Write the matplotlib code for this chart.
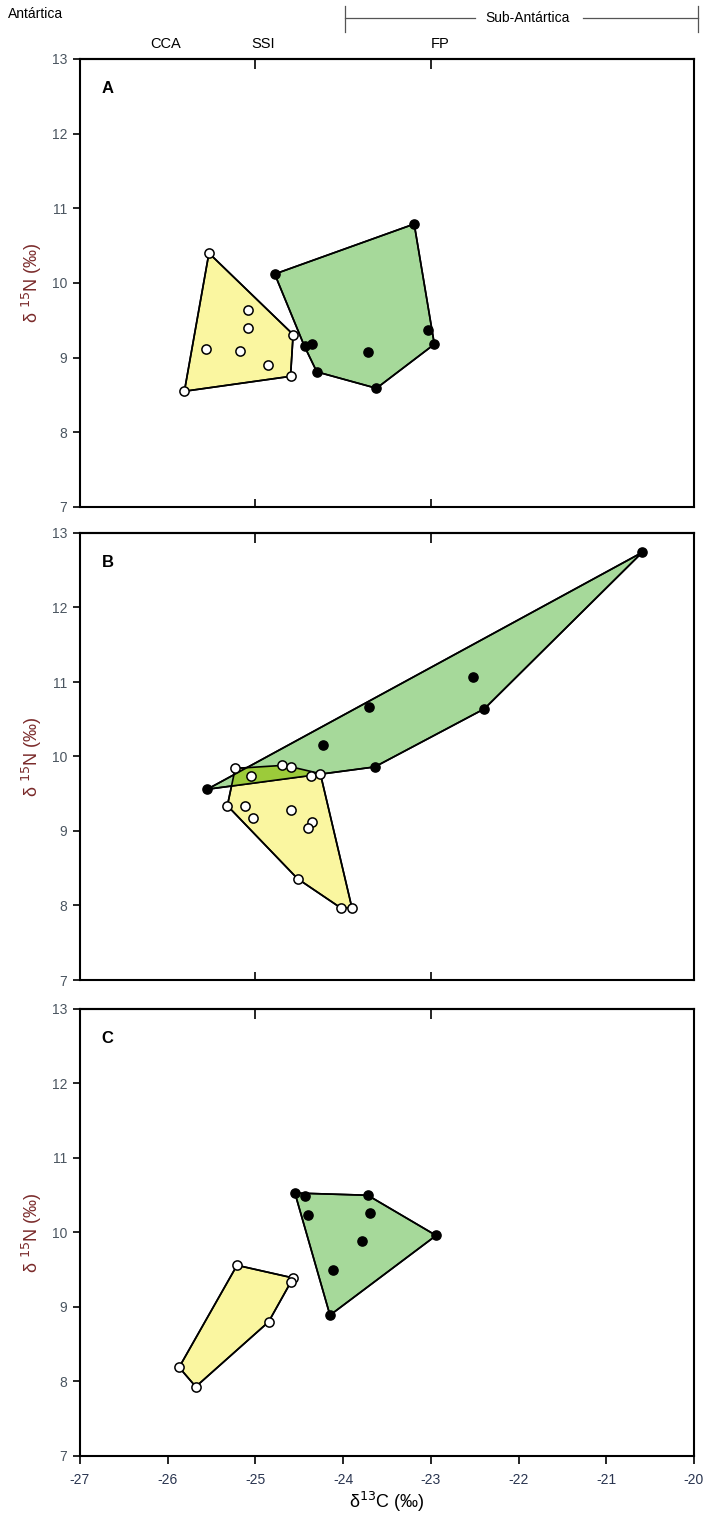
import matplotlib
matplotlib.use("Agg")
import matplotlib.pyplot as plt
from matplotlib.patches import Polygon

plt.rcParams['font.family'] = ['Liberation Sans', 'DejaVu Sans']

# ---- data (d13C, d15N) ----
# panel A
a_open_x = [-25.53, -25.09, -25.09, -24.57, -25.56, -25.18, -24.86, -24.60, -25.81]
a_open_y = [10.40, 9.64, 9.40, 9.31, 9.11, 9.09, 8.90, 8.75, 8.55]
a_fill_x = [-23.19, -24.78, -24.44, -24.36, -24.30, -23.62, -23.72, -23.03, -22.96]
a_fill_y = [10.79, 10.12, 9.15, 9.18, 8.81, 8.59, 9.08, 9.37, 9.18]

# panel B
b_open_x = [-25.23, -25.05, -24.70, -24.59, -24.37, -24.26, -25.32, -25.12, -25.03,
            -24.59, -24.35, -24.40, -24.52, -24.03, -23.90]
b_open_y = [9.84, 9.74, 9.88, 9.86, 9.74, 9.77, 9.34, 9.33, 9.17,
            9.28, 9.12, 9.04, 8.36, 7.97, 7.97]
b_fill_x = [-20.59, -22.52, -22.39, -23.71, -24.23, -23.64, -25.55]
b_fill_y = [12.74, 11.07, 10.64, 10.66, 10.16, 9.86, 9.56]

# panel C
c_open_x = [-25.21, -24.57, -24.60, -24.85, -25.87, -25.68]
c_open_y = [9.56, 9.39, 9.34, 8.80, 8.19, 7.93]
c_fill_x = [-24.55, -24.43, -23.72, -24.40, -23.69, -22.94, -23.79, -24.11, -24.15]
c_fill_y = [10.53, 10.49, 10.50, 10.24, 10.26, 9.96, 9.88, 9.50, 8.89]

panels = [
    ("A", a_open_x, a_open_y, a_fill_x, a_fill_y),
    ("B", b_open_x, b_open_y, b_fill_x, b_fill_y),
    ("C", c_open_x, c_open_y, c_fill_x, c_fill_y),
]

x_ticks = [-27, -26, -25, -24, -23, -22, -21, -20]
y_ticks = [7, 8, 9, 10, 11, 12, 13]
zone_ticks = [-25, -23]

YELLOW = "#FAF6A0"
GREEN = "#A6D99A"
OVERLAP = "#9CCB3A"


def convex_hull(xs, ys):
    pts = sorted(set(zip(xs, ys)))

    def cross(o, a, b):
        return (a[0] - o[0]) * (b[1] - o[1]) - (a[1] - o[1]) * (b[0] - o[0])

    lower, upper = [], []
    for p in pts:
        while len(lower) >= 2 and cross(lower[-2], lower[-1], p) <= 0:
            lower.pop()
        lower.append(p)
    for p in reversed(pts):
        while len(upper) >= 2 and cross(upper[-2], upper[-1], p) <= 0:
            upper.pop()
        upper.append(p)
    return lower[:-1] + upper[:-1]


fig = plt.figure(figsize=(7.04, 15.19), dpi=100)

# axes boxes in pixels (top, bottom) of each panel
boxes = [(59, 507), (533, 980), (1009, 1456)]
W, H = 704.0, 1519.0
left_px, right_px = 80, 694

for i, ((top, bot), (letter, ox, oy, fx, fy)) in enumerate(zip(boxes, panels)):
    ax = fig.add_axes([left_px / W, 1 - bot / H, (right_px - left_px) / W, (bot - top) / H])

    yp = Polygon(convex_hull(ox, oy), closed=True, facecolor=YELLOW,
                 edgecolor="black", linewidth=1.2, zorder=2)
    gp = Polygon(convex_hull(fx, fy), closed=True, facecolor=GREEN,
                 edgecolor="black", linewidth=1.2, zorder=2)
    ax.add_patch(yp)
    ax.add_patch(gp)
    # overlap between the two hulls
    ov = Polygon(convex_hull(fx, fy), closed=True, facecolor=OVERLAP,
                 edgecolor="none", zorder=2.5)
    ax.add_patch(ov)
    ov.set_clip_path(yp)
    # re-draw outlines on top of overlap
    for hx, hy in [(ox, oy), (fx, fy)]:
        ax.add_patch(Polygon(convex_hull(hx, hy), closed=True, facecolor="none",
                             edgecolor="black", linewidth=1.2, zorder=2.6))

    ax.scatter(ox, oy, s=44, facecolor="white", edgecolor="black", linewidth=1.1, zorder=3)
    ax.scatter(fx, fy, s=44, facecolor="black", edgecolor="black", linewidth=1.0, zorder=3)

    ax.set_xlim(-27, -20)
    ax.set_ylim(7, 13)
    ax.set_yticks(y_ticks)
    ax.tick_params(axis="y", direction="out", length=5, width=1.2, labelsize=10,
                   labelcolor="#4a5560", pad=4)
    for s in ax.spines.values():
        s.set_linewidth(1.5)

    if i == 2:
        ax.set_xticks(x_ticks)
        ax.set_xticklabels([str(t) for t in x_ticks])
        ax.tick_params(axis="x", direction="out", length=6, width=1.2, labelsize=10,
                       labelcolor="#2a3550", pad=6)
        ax.set_xlabel("δ$^{13}$C (‰)", fontsize=13, labelpad=2)
    else:
        ax.set_xticks(zone_ticks)
        ax.tick_params(axis="x", direction="in", length=6, width=1.2, labelbottom=False)

    # zone ticks on top edge
    sec = ax.secondary_xaxis("top")
    sec.set_xticks(zone_ticks)
    sec.tick_params(direction="in", length=7, width=1.2, labeltop=False)
    sec.spines["top"].set_linewidth(1.5)

    ax.set_ylabel("δ $^{15}$N (‰)", fontsize=13, color="#7a2a2a", labelpad=6)
    ax.text(0.035, 0.95, letter, transform=ax.transAxes, fontsize=12,
            fontweight="bold", ha="left", va="top")

# header above panel A
fig.text(8 / W, 1 - 14 / H, "Antártica", fontsize=10, ha="left", va="center")
for lbl, xpx in [("CCA", 166), ("SSI", 263), ("FP", 440)]:
    fig.text(xpx / W, 1 - 44 / H, lbl, fontsize=10.5, ha="center", va="center")
fig.text(528 / W, 1 - 18 / H, "Sub-Antártica", fontsize=10, ha="center", va="center")
ln_y = 1 - 18 / H
fig.add_artist(plt.Line2D([345 / W, 475 / W], [ln_y, ln_y], color="#555555", linewidth=0.9))
fig.add_artist(plt.Line2D([583 / W, 698 / W], [ln_y, ln_y], color="#555555", linewidth=0.9))
fig.add_artist(plt.Line2D([345 / W, 345 / W], [1 - 6 / H, 1 - 32 / H], color="#555555", linewidth=0.9))
fig.add_artist(plt.Line2D([698 / W, 698 / W], [1 - 6 / H, 1 - 32 / H], color="#555555", linewidth=0.9))

fig.savefig("out.png", dpi=100)
